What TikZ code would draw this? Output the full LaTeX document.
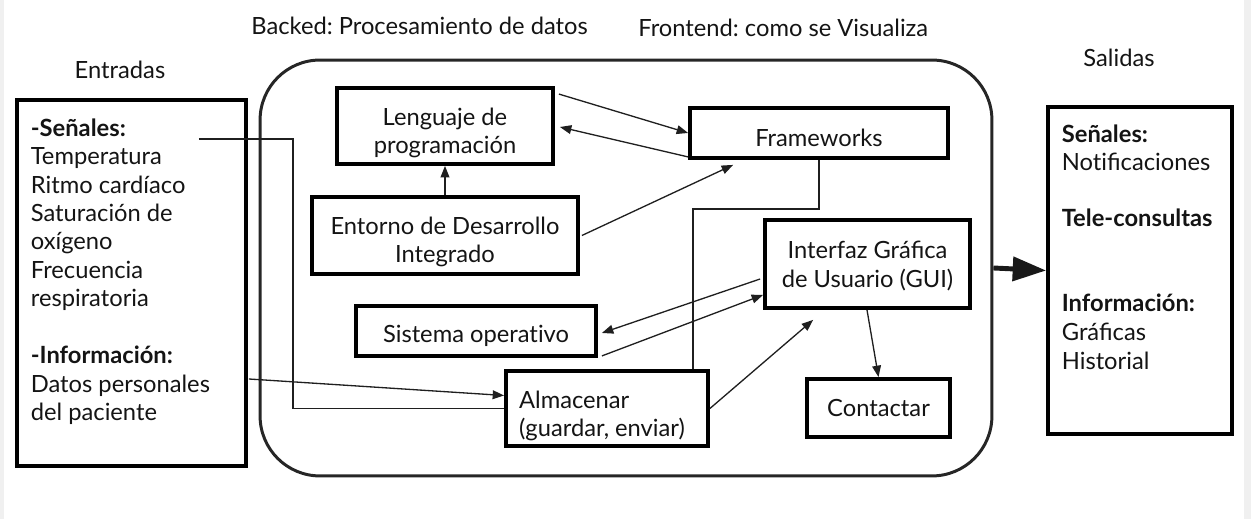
\documentclass[tikz,border=0pt]{standalone}
\usepackage{fontspec}
\setmainfont{Lato}
\usetikzlibrary{arrows.meta,calc}
\newcommand{\nolg}{\kern0pt}
\frenchspacing
\begin{document}
\begin{tikzpicture}[x=0.02cm,y=-0.02cm,
  every node/.style={font=\fontsize{13.5}{16.1}\selectfont\frenchspacing, text=black!92},
  boxthick/.style={draw=black, line width=2.2pt, inner sep=0pt},
  boxtext/.style={inner sep=0pt, align=center},
  lbl/.style={anchor=base west, inner sep=0pt},
  ttl/.style={anchor=base, inner sep=0pt},
  conn/.style={draw=black!88, line width=0.75pt},
  arr/.style={conn, -{Triangle[length=6.5pt,width=5pt]}},
  bigarr/.style={draw=black!90, line width=2.8pt, -{Triangle[length=19pt,width=13.5pt]}}
]
\useasboundingbox (0,0) rectangle (1251,519);
\fill[gray!12] (0,0) rectangle (4,519);
\fill[gray!12] (1244,0) rectangle (1251,519);

% titles
\node[ttl] (tEnt) at (120,78.3) {Entradas};
\node[ttl] (tSal) at (1119,66.7) {Salidas};
\node[lbl] (tBack) at (251,35) {Backed: Procesamiento de datos};
\node[lbl] (tFront) at (638,37) {Frontend: como se Visualiza};

% outer boxes
\node[boxthick, minimum width=4.58cm, minimum height=7.32cm] (lb) at (131.5,283) {};
\node[boxthick, minimum width=3.68cm, minimum height=6.54cm] (rb) at (1140,270.5) {};
\node[draw=black!85, line width=1.7pt, rounded corners=1.2cm, minimum width=14.64cm, minimum height=8.32cm, inner sep=0pt] (proc) at (626,268) {};

% left box text
\node[lbl] (l1) at (30.5,137) {\bfseries -Señales:};
\node[lbl] (l2) at (30.5,165) {Temperatura};
\node[lbl] (l3) at (30.5,193.5) {Ritmo cardíaco};
\node[lbl] (l4) at (30.5,222) {Saturación de};
\node[lbl] (l5) at (30.5,250) {oxígeno};
\node[lbl] (l6) at (30.5,278.5) {Frecuencia};
\node[lbl] (l7) at (30.5,307) {respiratoria};
\node[lbl] (l8) at (30.5,364) {\bfseries -Información:};
\node[lbl] (l9) at (30.5,392.5) {Datos personales};
\node[lbl] (l10) at (30.5,421) {del paciente};

% right box text
\node[lbl] (r1) at (1061.5,142.7) {\bfseries Señales:};
\node[lbl] (r2) at (1061.5,170.7) {Not\nolg ificaciones};
\node[lbl] (r3) at (1061.5,227) {\bfseries Tele-consultas};
\node[lbl] (r4) at (1061.5,311.7) {\bfseries Información:};
\node[lbl] (r5) at (1061.5,341) {Gráficas};
\node[lbl] (r6) at (1061.5,369.3) {Historial};

% inner boxes
\node[boxthick, minimum width=4.32cm, minimum height=1.52cm] (leng) at (445,126) {};
\node[boxthick, minimum width=5.16cm, minimum height=1.0cm] (fw) at (819,133) {};
\node[boxthick, minimum width=5.32cm, minimum height=1.54cm] (ent) at (445,235.5) {};
\node[boxthick, minimum width=4.10cm, minimum height=1.76cm] (gui) at (867.5,264) {};
\node[boxthick, minimum width=4.80cm, minimum height=1.0cm] (sys) at (476,331) {};
\node[boxthick, minimum width=4.04cm, minimum height=1.50cm] (alm) at (607,408.5) {};
\node[boxthick, minimum width=2.86cm, minimum height=1.16cm] (con) at (878.5,408) {};

\node[boxtext] (lengT) at ($(leng.center)+(0,7)$) {Lenguaje de\\programación};
\node[boxtext] (fwT) at ($(fw.center)+(0,5)$) {Frameworks};
\node[boxtext] (entT) at ($(ent.center)+(0,6.5)$) {Entorno de Desarrollo\\Integrado};
\node[boxtext] (guiT) at ($(gui.center)+(0,2)$) {Interfaz Gráfica\\de Usuario (GUI)};
\node[boxtext] (sysT) at ($(sys.center)+(0,5)$) {Sistema operat\nolg ivo};
\node[boxtext, align=left] (almT) at ($(alm.center)+(-5,7.5)$) {Almacenar\\(guardar, enviar)};
\node[boxtext] (conT) at ($(con.center)+(0,0)$) {Contactar};

% connectors
\draw[arr] ($(leng.north east)+(4,8)$) -- (fw.west);
\draw[arr] ($(fw.south west)+(0,-3)$) -- ($(leng.east)+(5,1)$);
\draw[arr] (ent.north) -- (leng.south);
\draw[arr] ($(ent.east)+(2,0)$) -- ($(fw.south west)+(45,5)$);
\draw[conn] (fw.south) -- ++(0,49) -| ($(alm.north east)+(-17,0)$);
\draw[arr] ($(gui.west)+(-3,15)$) -- ($(sys.east)+(4,2)$);
\draw[arr] ($(sys.south east)+(4,-2)$) -- ($(gui.south west)+(0,-15)$);
\draw[arr] (alm.east) -- ($(gui.south west)+(50,10)$);
\draw[arr] ($(gui.south)+(-0.5,0)$) -- (con.north);
\draw[conn] ($(lb.north east)+(-49,41)$) -- ++(94,0) |- (alm.west);
\draw[arr] ($(lb.east)+(1,96)$) -- ($(alm.west)+(0,-13)$);
\draw[bigarr] (proc.east) -- (rb.west);
\end{tikzpicture}
\end{document}
